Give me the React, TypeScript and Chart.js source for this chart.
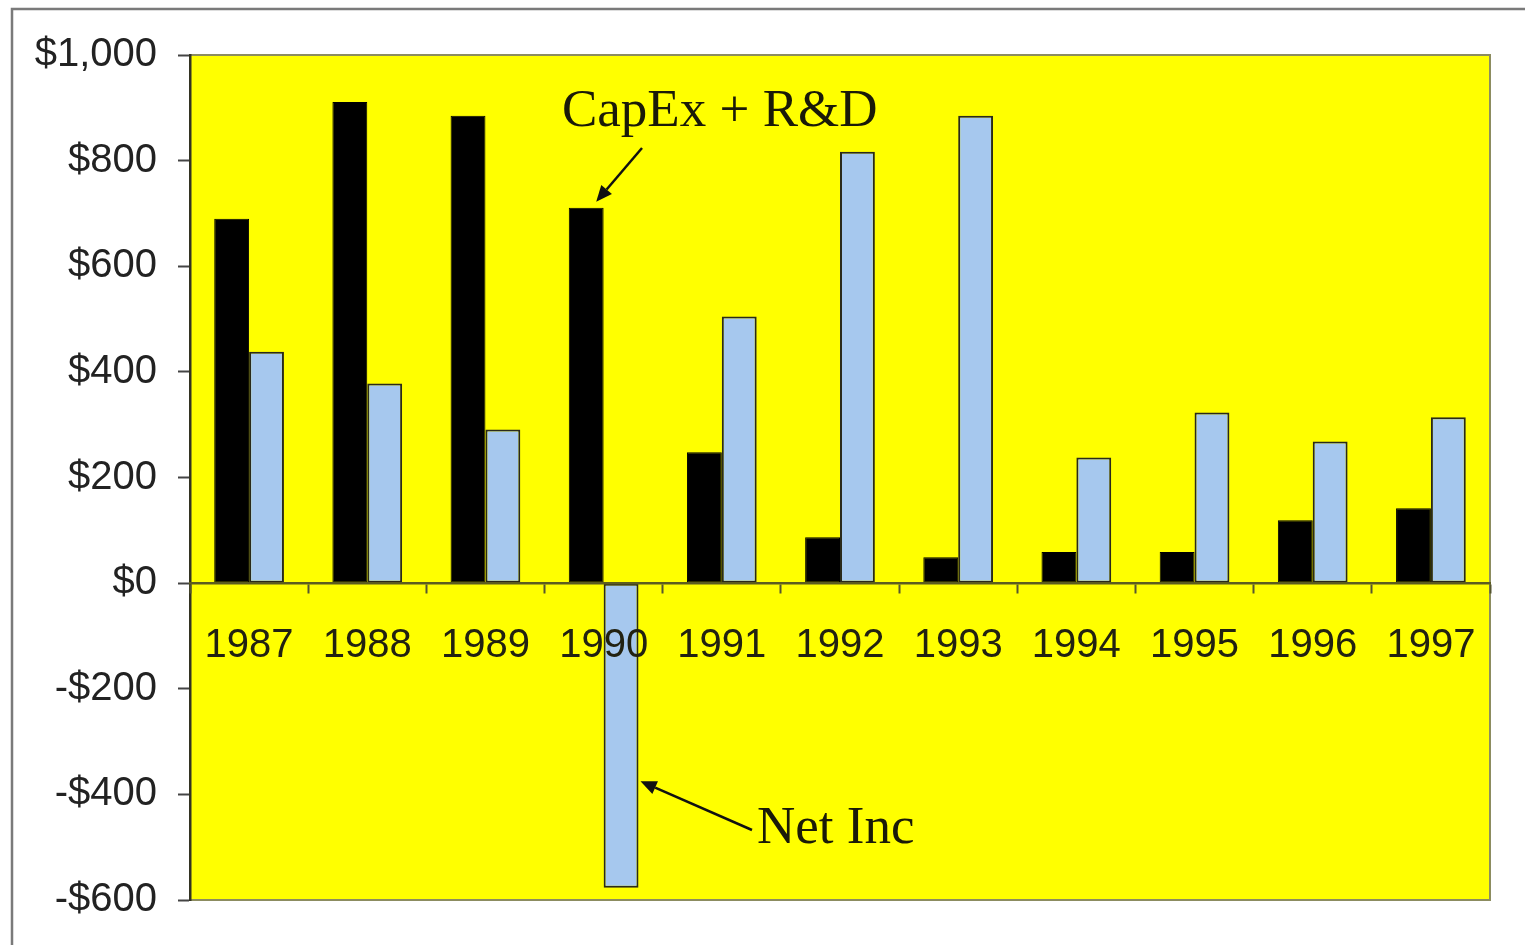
import React, { useEffect, useRef } from "react";
import { Chart, registerables } from "chart.js";

Chart.register(...registerables);

const years = ["1987", "1988", "1989", "1990", "1991", "1992", "1993", "1994", "1995", "1996", "1997"];
const capexRD = [690, 911, 885, 711, 248, 87, 49, 59, 59, 119, 142];
const netInc = [438, 378, 291, -577, 505, 817, 885, 238, 323, 268, 314];
const yTicks = [-600, -400, -200, 0, 200, 400, 600, 800, 1000];

const fmt = (v: number) => {
  const a = Math.abs(v).toLocaleString("en-US");
  return (v < 0 ? "-$" : "$") + a;
};

function arrow(ctx: CanvasRenderingContext2D, x1: number, y1: number, x2: number, y2: number) {
  ctx.save();
  ctx.strokeStyle = "#111";
  ctx.fillStyle = "#111";
  ctx.lineWidth = 2.5;
  const ang = Math.atan2(y2 - y1, x2 - x1);
  const L = 16, W = 7;
  const bx = x2 - L * Math.cos(ang), by = y2 - L * Math.sin(ang);
  ctx.beginPath();
  ctx.moveTo(x1, y1);
  ctx.lineTo(bx, by);
  ctx.stroke();
  ctx.beginPath();
  ctx.moveTo(x2, y2);
  ctx.lineTo(bx + W * Math.sin(ang), by - W * Math.cos(ang));
  ctx.lineTo(bx - W * Math.sin(ang), by + W * Math.cos(ang));
  ctx.closePath();
  ctx.fill();
  ctx.restore();
}

const decor = {
  id: "decor",
  beforeDraw(chart: any) {
    const { ctx, chartArea: a } = chart;
    ctx.save();
    ctx.fillStyle = "#ffffff";
    ctx.fillRect(0, 0, chart.width, chart.height);
    ctx.fillStyle = "#ffff00";
    ctx.fillRect(a.left, a.top, a.right - a.left, a.bottom - a.top);
    ctx.strokeStyle = "#8c8c60";
    ctx.lineWidth = 2;
    ctx.beginPath();
    ctx.moveTo(a.left, a.top);
    ctx.lineTo(a.right, a.top);
    ctx.lineTo(a.right, a.bottom);
    ctx.lineTo(a.left, a.bottom);
    ctx.stroke();
    // outer frame
    ctx.strokeStyle = "#7a7a7a";
    ctx.lineWidth = 2.5;
    ctx.strokeRect(12, 9, chart.width + 20, chart.height + 20);
    ctx.restore();
  },
  afterDraw(chart: any) {
    const { ctx, scales } = chart;
    const y = scales.y;
    const capBar = chart.getDatasetMeta(0).data[3];
    const netBar = chart.getDatasetMeta(1).data[3];
    ctx.save();
    ctx.fillStyle = "#1a1a08";
    ctx.font = "53px 'Liberation Serif', 'Times New Roman', serif";
    ctx.textBaseline = "alphabetic";
    ctx.textAlign = "left";
    ctx.fillText("CapEx + R&D", 562, 126);
    ctx.fillText("Net Inc", 757, 843);
    ctx.restore();
    arrow(ctx, 642, 148, capBar.x + 10, capBar.y - 6);
    arrow(ctx, 752, 830, netBar.x + netBar.width / 2 + 2, y.getPixelForValue(-375));
  },
};

export default function App() {
  const ref = useRef<HTMLCanvasElement>(null);
  useEffect(() => {
    if (!ref.current) return;
    const chart = new Chart(ref.current, {
      type: "bar",
      data: {
        labels: years,
        datasets: [
          {
            label: "CapEx + R&D",
            data: capexRD,
            backgroundColor: "#000000",
            borderColor: "#000000",
            borderWidth: 1,
            borderSkipped: false,
          },
          {
            label: "Net Inc",
            data: netInc,
            backgroundColor: "#a6c8ee",
            borderColor: "#2a2a1a",
            borderWidth: 2,
            borderSkipped: false,
          },
        ],
      },
      options: {
        animation: false,
        responsive: false,
        maintainAspectRatio: false,
        layout: { padding: { left: 0, top: 55, right: 35, bottom: 41 } },
        plugins: { legend: { display: false }, tooltip: { enabled: false } },
        datasets: { bar: { categoryPercentage: 0.59, barPercentage: 1.0 } },
        scales: {
          x: {
            position: { y: 0 } as any,
            offset: true,
            grid: {
              display: true,
              offset: true,
              drawOnChartArea: false,
              drawTicks: true,
              tickLength: 9,
              tickWidth: 2,
              tickColor: "#555530",
              z: 1,
            },
            border: { display: true, color: "#5c5c20", width: 2.5, z: 1 },
            ticks: {
              z: 2,
              padding: 30,
              color: "#222211",
              font: { family: "'Liberation Sans', Arial, sans-serif", size: 40 },
              maxRotation: 0,
              autoSkip: false,
            },
          },
          y: {
            min: -600,
            max: 1000,
            afterBuildTicks: (s: any) => {
              s.ticks = yTicks.map((v) => ({ value: v }));
            },
            afterFit: (s: any) => {
              s.width = 190;
            },
            grid: {
              display: true,
              drawOnChartArea: false,
              drawTicks: true,
              tickLength: 12,
              tickWidth: 2,
              tickColor: "#444",
            },
            border: { display: true, color: "#333322", width: 2.5 },
            ticks: {
              padding: 21,
              color: "#222",
              font: { family: "'Liberation Sans', Arial, sans-serif", size: 40 },
              callback: (v: any) => fmt(Number(v)),
            },
          },
        },
      },
      plugins: [decor],
    });
    return () => chart.destroy();
  }, []);
  return (
    <div style={{ position: "fixed", left: 0, top: 0, width: 1525, height: 945 }}>
      <canvas ref={ref} width={1525} height={945} style={{ width: 1525, height: 945 }} />
    </div>
  );
}
